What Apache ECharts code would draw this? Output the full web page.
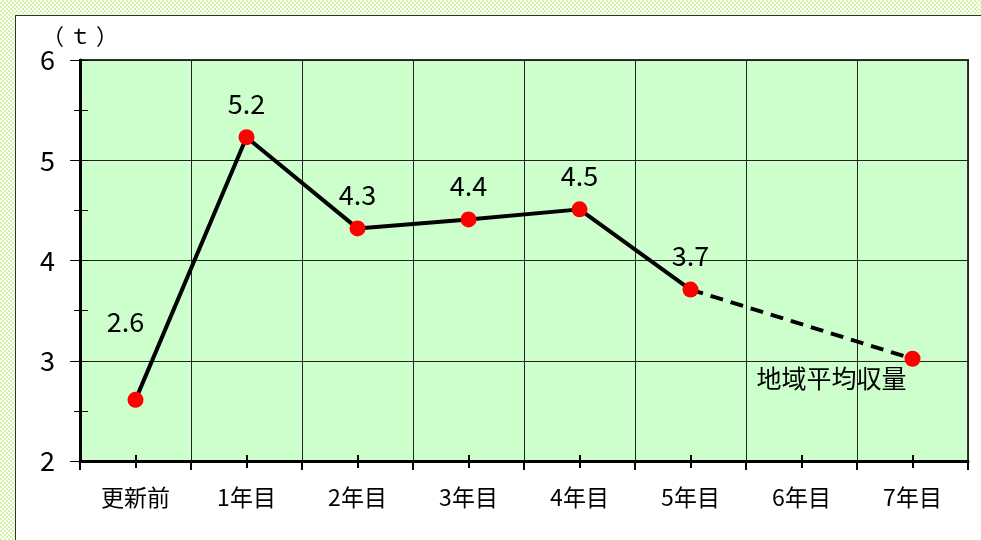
<!DOCTYPE html>
<html>
<head>
<meta charset="utf-8">
<script src="https://cdn.jsdelivr.net/npm/echarts@6/dist/echarts.min.js"></script>
<style>
  html, body {
    margin: 0;
    padding: 0;
    width: 981px;
    height: 540px;
    overflow: hidden;
    background-color: #fff;
    background-image: repeating-conic-gradient(#d4f5a8 0% 25%, #ffffff 0% 50%);
    background-size: 4px 4px;
  }
  .frame {
    position: absolute;
    left: 15px;
    top: 15px;
    width: 1000px;
    height: 600px;
    background: #fff;
    border: 1.5px solid #333;
  }
  #chart {
    position: absolute;
    left: 0;
    top: 0;
    width: 981px;
    height: 540px;
  }
</style>
</head>
<body>
<div class="frame"></div>
<div id="chart"></div>
<script>
// カテゴリ
const categories = ["更新前", "1年目", "2年目", "3年目", "4年目", "5年目", "6年目", "7年目"];
// 実績値（表示ラベル用）
const yieldLabels = ["2.6", "5.2", "4.3", "4.4", "4.5", "3.7"];
// 実績値（プロット位置）
const yieldValues = [2.61, 5.23, 4.32, 4.41, 4.51, 3.71, null, null];
// 地域平均収量（7年目）
const averageValues = [null, null, null, null, null, 3.71, null, 3.02];
const averageName = "地域平均収量";
// Y軸
const yMin = 2;
const yMax = 6;

const FONT = "'Noto Sans CJK JP', 'Noto Sans', sans-serif";

const chart = echarts.init(document.getElementById("chart"));

// 実績系列のデータ（ラベル付き）
const yieldData = yieldValues.map((v, i) => {
  if (v === null) return null;
  const item = {
    value: v,
    label: {
      show: true,
      formatter: yieldLabels[i],
    },
  };
  // 更新前のラベルだけ左上に離して置く
  if (i === 0) {
    item.label.offset = [-10, -45];
  }
  return item;
});

// 地域平均系列（最後の点のみラベル）
const averageData = averageValues.map((v, i) => {
  if (v === null) return null;
  if (i === averageValues.length - 1) {
    return {
      value: v,
      label: {
        show: true,
        formatter: averageName,
        position: "bottom",
        distance: 0,
        offset: [-81, -1],
        fontSize: 25,
      },
    };
  }
  return { value: v, symbol: "none" };
});

const tickAxisBase = {
  type: "category",
  data: categories,
  gridIndex: 0,
  position: "bottom",
  axisLine: { show: false },
  axisLabel: { show: false },
  splitLine: { show: false },
};

const option = {
  animation: false,
  textStyle: { fontFamily: FONT },
  grid: {
    left: 80,
    right: 13,
    top: 60,
    bottom: 79,
    show: true,
    backgroundColor: "#ccffcc",
    borderColor: "#333",
    borderWidth: 2,
  },
  xAxis: [
    {
      type: "category",
      data: categories,
      boundaryGap: true,
      axisLine: { lineStyle: { color: "#000", width: 3 } },
      axisTick: { show: true, length: 9, lineStyle: { color: "#000", width: 2 } },
      axisLabel: {
        color: "#000",
        fontSize: 23,
        margin: 25,
        fontFamily: FONT,
      },
      splitLine: { show: true, lineStyle: { color: "#222", width: 1 } },
    },
    Object.assign({}, tickAxisBase, {
      axisTick: { show: true, alignWithLabel: true, length: 7, lineStyle: { color: "#000", width: 2 } },
    }),
    Object.assign({}, tickAxisBase, {
      axisTick: { show: true, alignWithLabel: true, inside: true, length: 6, lineStyle: { color: "#000", width: 2 } },
    }),
  ],
  yAxis: [
    {
      type: "value",
      min: yMin,
      max: yMax,
      interval: 1,
      name: "（ ｔ ）",
      nameLocation: "end",
      nameGap: 12,
      nameTextStyle: { color: "#000", fontSize: 22, fontFamily: FONT, align: "center" },
      axisLine: { show: true, lineStyle: { color: "#000", width: 3 } },
      axisTick: { show: true, length: 10, lineStyle: { color: "#000", width: 1 } },
      minorTick: { show: true, splitNumber: 2, length: 6, lineStyle: { color: "#000", width: 1 } },
      axisLabel: { color: "#000", fontSize: 27, margin: 25, fontFamily: FONT },
      splitLine: { show: true, lineStyle: { color: "#222", width: 1 } },
    },
    {
      type: "value",
      min: yMin,
      max: yMax,
      interval: 0.5,
      position: "left",
      axisLine: { show: false },
      axisTick: { show: true, inside: true, length: 8, lineStyle: { color: "#000", width: 1 } },
      axisLabel: { show: false },
      splitLine: { show: false },
    },
  ],
  series: [
    {
      name: "average",
      type: "line",
      data: averageData,
      connectNulls: true,
      symbol: "circle",
      symbolSize: 16,
      itemStyle: { color: "#ff0000" },
      lineStyle: { color: "#000", width: 4, type: [13, 8] },
      label: { color: "#000", fontFamily: FONT },
      z: 2,
    },
    {
      name: "yield",
      type: "line",
      data: yieldData,
      symbol: "circle",
      symbolSize: 16,
      itemStyle: { color: "#ff0000" },
      lineStyle: { color: "#000", width: 4 },
      label: {
        position: "top",
        distance: 12,
        color: "#000",
        fontSize: 27,
        fontFamily: FONT,
      },
      z: 3,
    },
  ],
};

chart.setOption(option);
</script>
</body>
</html>
